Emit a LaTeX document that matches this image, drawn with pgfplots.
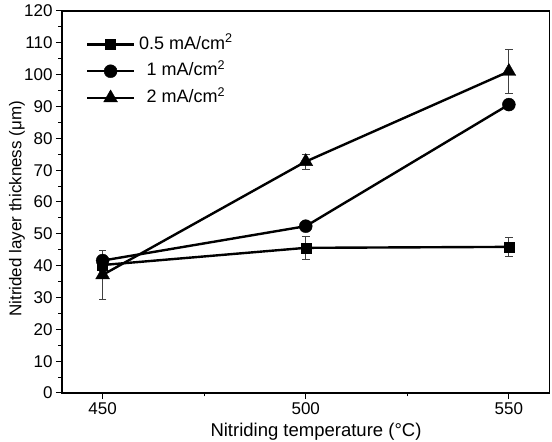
\documentclass[border=0pt]{standalone}
\usepackage{fontspec}
\setmainfont{Liberation Sans}
\usepackage{pgfplots}
\pgfplotsset{compat=1.18}

\begin{document}
\begin{tikzpicture}
\begin{axis}[
  at={(0,0)}, anchor=south west,
  scale only axis, width=487.5pt, height=382pt,
  xmin=440, xmax=560, ymin=0, ymax=120,
  xtick={450,500,550}, minor xtick={475,525},
  ytick={0,10,...,120}, minor ytick={5,15,...,115},
  tick align=outside, tick pos=left,
  major tick length=6pt, minor tick length=3.5pt,
  every tick/.style={black, line width=1pt},
  axis line style={line width=1.2pt},
  /pgf/number format/assume math mode=true,
  /pgf/number format/1000 sep={},
  ticklabel style={font=\fontsize{17}{20}\selectfont},
  xlabel={Nitriding temperature (°C)},
  ylabel={Nitrided layer thickness (μm)},
  xlabel style={font=\fontsize{18.5}{22}\selectfont,
    at={(axis description cs:0.521,-0.101)}, anchor=center},
  ylabel style={font=\fontsize{17}{20}\selectfont,
    at={(axis description cs:-0.0923,0.482)}, anchor=center},
  legend cell align=center,
  legend style={draw=none, fill=none, font=\fontsize{18}{21}\selectfont,
    at={(axis description cs:0.049,0.935)}, anchor=north west,
    inner sep=0pt, row sep=9.7pt, column sep=4pt,
    nodes={inner sep=0pt, text height=13pt, text depth=4pt}},
  legend image code/.code={%
    \draw[mark repeat=2, mark phase=2]
      plot coordinates {(0pt,0pt) (23.3pt,0pt) (46.7pt,0pt)};},
  error bars/error bar style={line width=0.8pt, black!75},
  error bars/error mark options={rotate=90, mark size=3.8pt,
    line width=0.8pt, black!75},
]

% 0.5 mA/cm^2
\addplot[black, line width=2.4pt, mark=square*, mark size=5pt,
  mark options={solid, draw=black, fill=black, line width=0.4pt},
  error bars/.cd, y dir=both, y explicit]
  coordinates {
    (450,40.2) +- (0,2.0)
    (500,45.6) +- (0,3.6)
    (550,45.9) +- (0,3.0)
  };
\addlegendentry{0.5 mA/cm$^{\mathrm{2}}$}

% 1 mA/cm^2
\addplot[black, line width=2.4pt, mark=*, mark size=6.5pt,
  mark options={solid, draw=black, fill=black, line width=0.4pt},
  error bars/.cd, y dir=both, y explicit]
  coordinates {
    (450,41.6) +- (0,1.5)
    (500,52.4) +- (0,1.0)
    (550,90.6) +- (0,1.5)
  };
\addlegendentry{1 mA/cm$^{\mathrm{2}}$}

% 2 mA/cm^2
\addplot[black, line width=2.4pt, mark=triangle*, mark size=8pt,
  mark options={solid, draw=black, fill=black, line width=0.4pt},
  error bars/.cd, y dir=both, y explicit]
  coordinates {
    (450,37.1) +- (0,7.6)
    (500,72.7) +- (0,2.4)
    (550,101.0) +- (0,6.9)
  };
\addlegendentry{2 mA/cm$^{\mathrm{2}}$}

\end{axis}
\pgfresetboundingbox
\path[use as bounding box] (-62pt,-49pt) rectangle (490pt,393pt);
\end{tikzpicture}
\end{document}
